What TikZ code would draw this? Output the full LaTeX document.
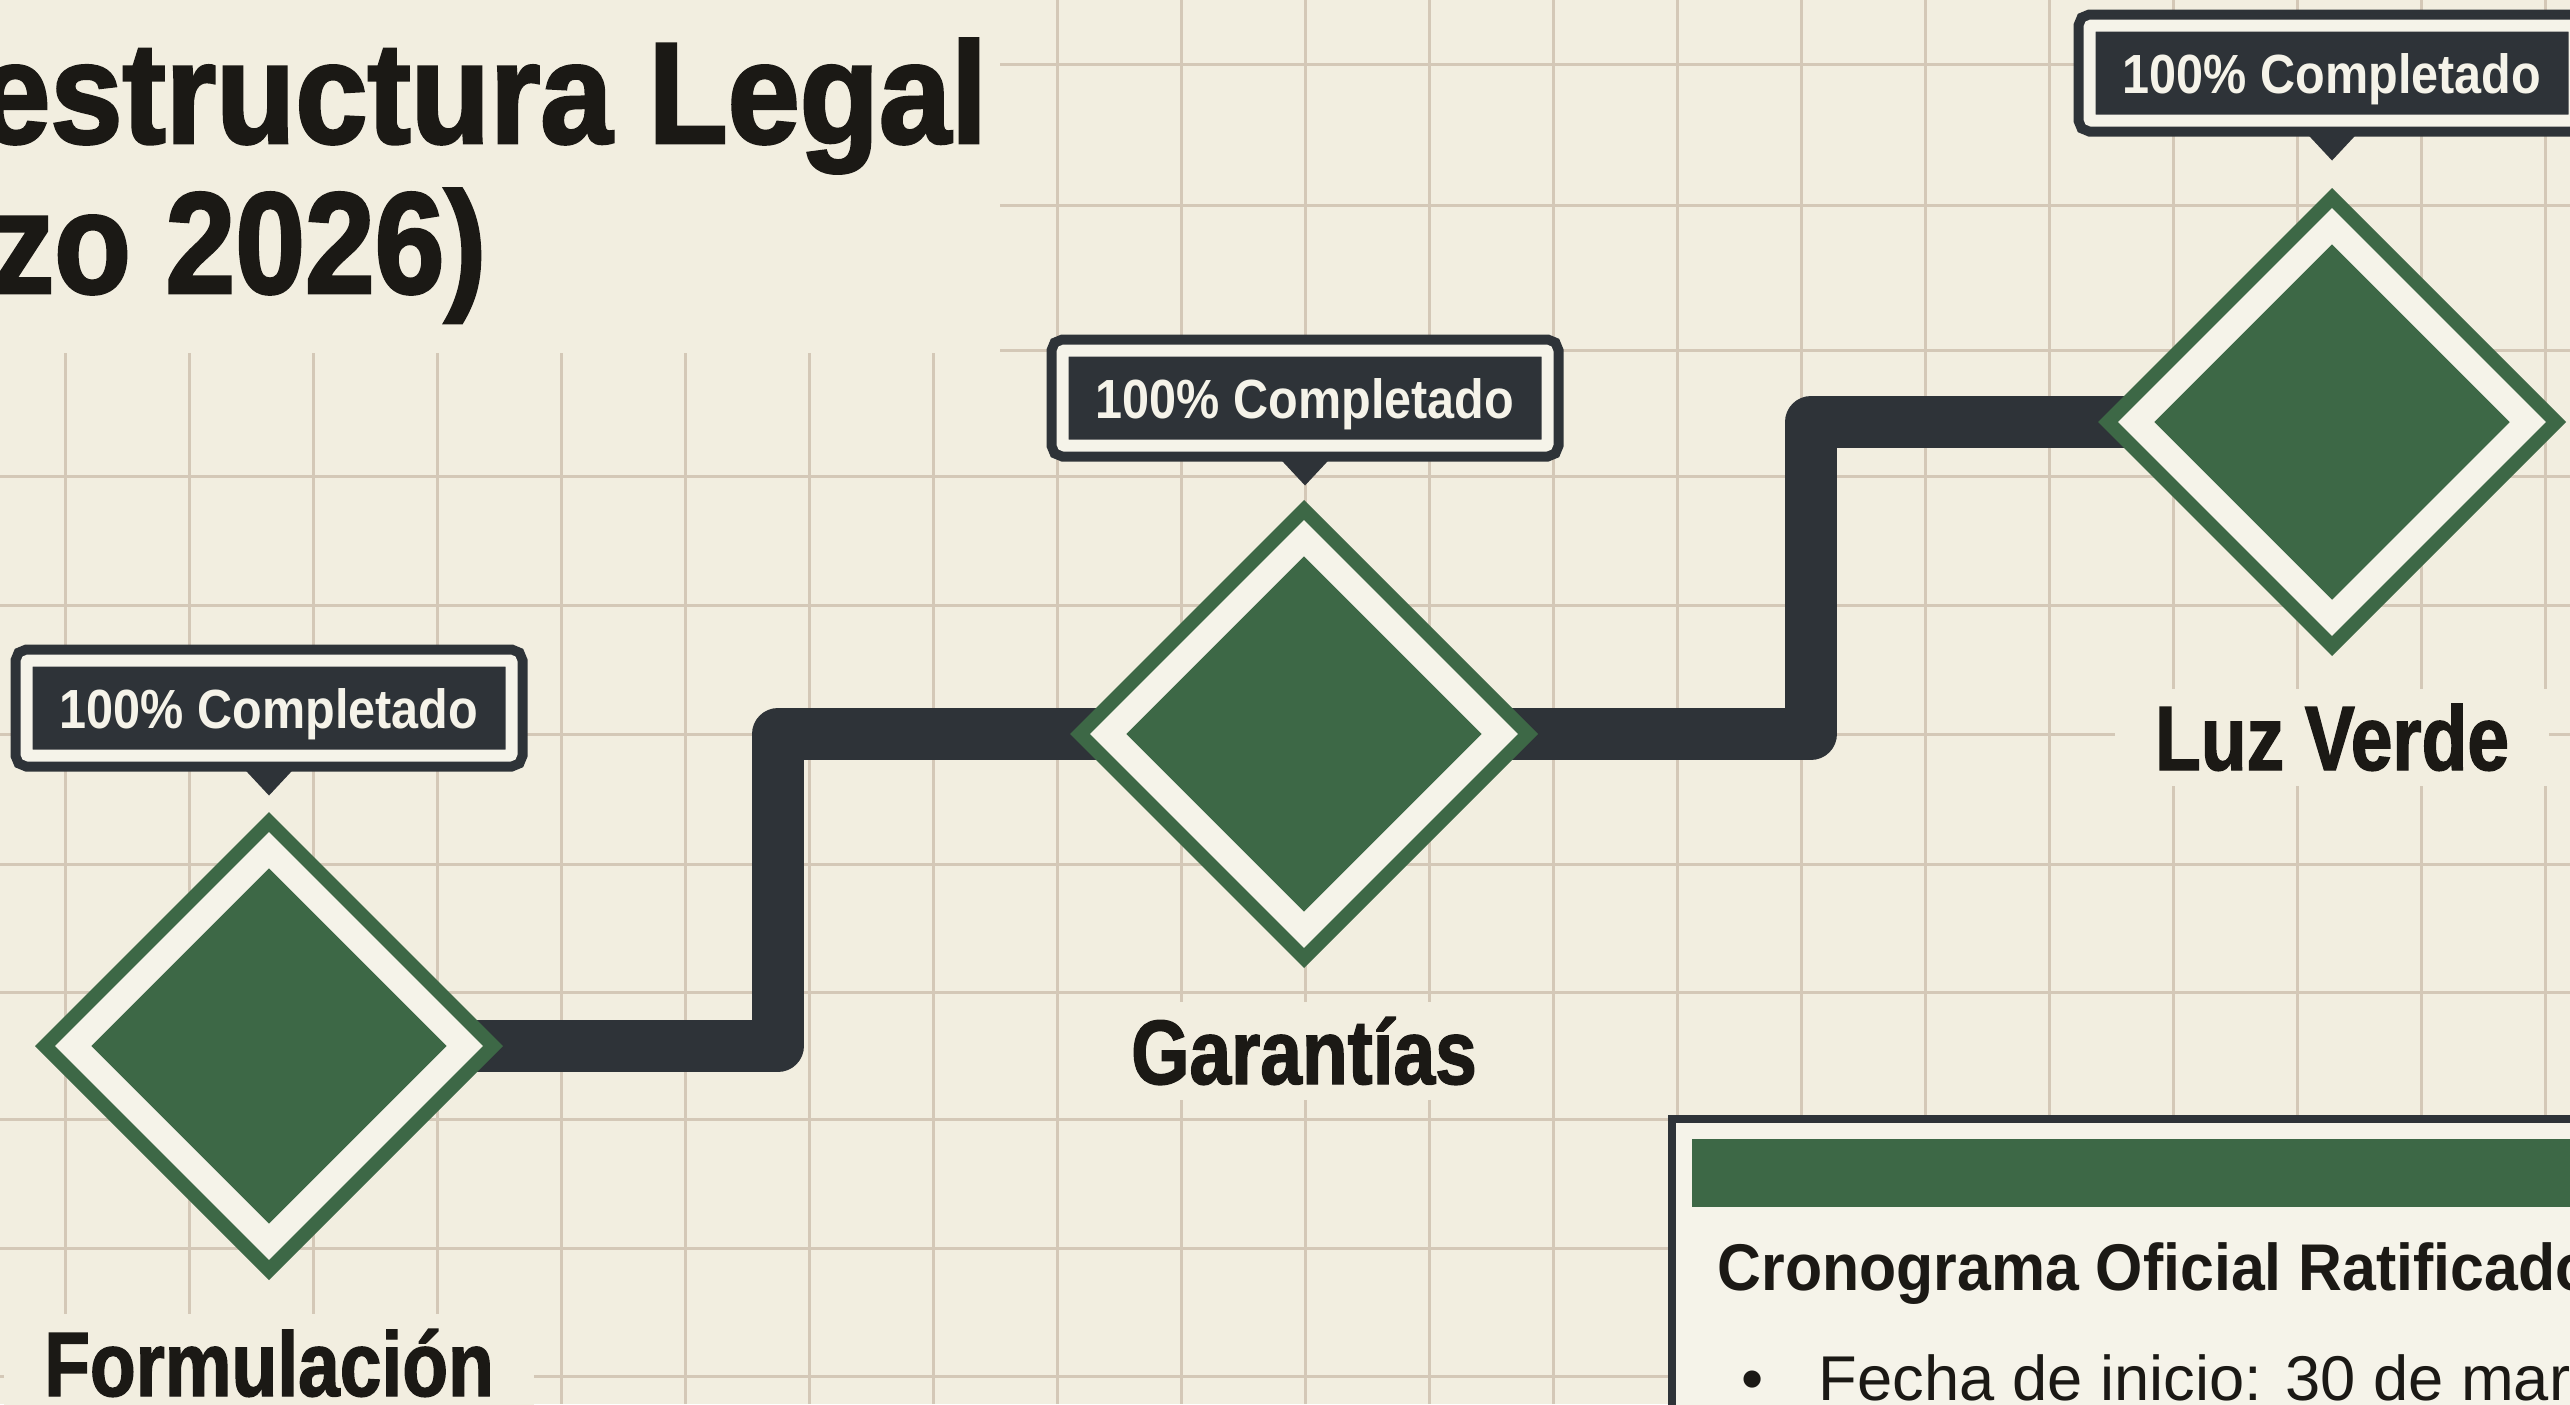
\documentclass[tikz,border=0pt]{standalone}
\usepackage{fontspec}
\setmainfont{Liberation Sans}
\newfontfamily\titlefont{Liberation Sans}[FakeStretch=0.9, BoldFeatures={FakeBold=2}]
\newfontfamily\titlefontb{Liberation Sans}[FakeStretch=0.87, BoldFeatures={FakeBold=2}]
\newfontfamily\labelfont{Liberation Sans}[FakeStretch=0.82, BoldFeatures={FakeBold=1.5}]
\newfontfamily\badgefont{Liberation Sans}[FakeStretch=0.88]
\newfontfamily\cardfont{Liberation Sans}[FakeStretch=0.92]
\usetikzlibrary{shapes.geometric}
\definecolor{paper}{RGB}{242,238,224}
\definecolor{paperlight}{RGB}{245,243,233}
\definecolor{gridline}{RGB}{212,200,183}
\definecolor{ink}{RGB}{46,51,56}
\definecolor{leaf}{RGB}{61,104,70}
\definecolor{titleink}{RGB}{27,25,21}
\tikzset{
  gridrule/.style={draw=gridline, line width=0.3mm},
  track/.style={draw=ink, line width=5.2mm, line join=round},
  outerdia/.style={diamond, draw=leaf, line width=1.4mm, fill=paperlight,
    minimum width=45.4mm, minimum height=45.4mm, inner sep=0pt},
  innerdia/.style={diamond, fill=leaf, minimum width=35.6mm,
    minimum height=35.6mm, inner sep=0pt},
  badge/.style={rectangle, fill=ink, draw=ink, double=paperlight,
    double distance=1.2mm, line width=1mm, rounded corners=0.2mm,
    minimum width=48.5mm, minimum height=9.5mm, inner sep=0pt, outer sep=0pt,
    text=paperlight, text height=4mm, text depth=0mm,
    font=\badgefont\bfseries\fontsize{15.7}{18}\selectfont},
  milestone/.style={fill=paper, text=titleink, inner xsep=4mm, inner ysep=1.5mm,
    anchor=base, font=\labelfont\bfseries\fontsize{26}{30}\selectfont},
  titletext/.style={text=titleink, inner sep=0pt, anchor=base east,
    font=\titlefont\bfseries\fontsize{41}{49}\selectfont}
}
\begin{document}
\begin{tikzpicture}[x=0.1mm, y=-0.1mm]
\clip (0,0) rectangle (2570,1404);
\fill[paper] (0,0) rectangle (2570,1404);
\foreach \gx in {0,...,20}
  \draw[gridrule] ({65+124*\gx},0) -- ({65+124*\gx},1404);
\foreach \gy in {64,205,350,476,605,734,864,992,1119,1248,1376}
  \draw[gridrule] (0,\gy) -- (2570,\gy);
\fill[paper] (0,0) rectangle (1000,353);
\node[titletext] (title1) at (988,143) {estructura Legal};
\node[titletext, font=\titlefontb\bfseries\fontsize{41}{49}\selectfont] (title2) at (487,293) {zo 2026)};
\coordinate (c1) at (269,1046);
\coordinate (c2) at (1304,734);
\coordinate (c3) at (2332,422);
\coordinate (bend1) at (778,890);
\coordinate (bend2) at (1811,578);
\draw[track] (c1) -| (bend1) |- (c2) -| (bend2) |- (c3);
\node[outerdia] (dia1) at (c1) {};
\node[innerdia] (core1) at (c1) {};
\node[outerdia] (dia2) at (c2) {};
\node[innerdia] (core2) at (c2) {};
\node[outerdia] (dia3) at (c3) {};
\node[innerdia] (core3) at (c3) {};
\node[badge] (tag1) at (269,708) {100\% Completado};
\node[badge] (tag2) at (1305,398) {100\% Completado};
\node[badge] (tag3) at (2332,73) {100\% Completado};
\fill[ink] ([xshift=-2.8mm,yshift=-1mm]tag1.south) -- ([xshift=2.8mm,yshift=-1mm]tag1.south) -- ([yshift=-4mm]tag1.south) -- cycle;
\fill[ink] ([xshift=-2.8mm,yshift=-1mm]tag2.south) -- ([xshift=2.8mm,yshift=-1mm]tag2.south) -- ([yshift=-4mm]tag2.south) -- cycle;
\fill[ink] ([xshift=-2.8mm,yshift=-1mm]tag3.south) -- ([xshift=2.8mm,yshift=-1mm]tag3.south) -- ([yshift=-4mm]tag3.south) -- cycle;
\node[milestone] (lab1) at (269,1396) {Formulación};
\node[milestone] (lab2) at (1304,1084) {Garantías};
\node[milestone] (lab3) at (2332,770) {Luz Verde};
\draw[draw=ink, line width=0.8mm, fill=paperlight] (1672,1119) rectangle (2640,1460);
\fill[leaf] (1692,1139) rectangle (2640,1207);
\node[anchor=base west, inner sep=0pt, text=titleink, font=\cardfont\bfseries\fontsize{18.8}{22}\selectfont] (cardhead) at (1717,1290) {Cronograma Oficial Ratificado};
\node[anchor=base west, inner sep=0pt, text=titleink, font=\fontsize{18}{22}\selectfont] (carditem) at (1741,1400) {\textbullet\hspace{5.5mm}Fecha de inicio: 30 de mar};
\end{tikzpicture}
\end{document}
